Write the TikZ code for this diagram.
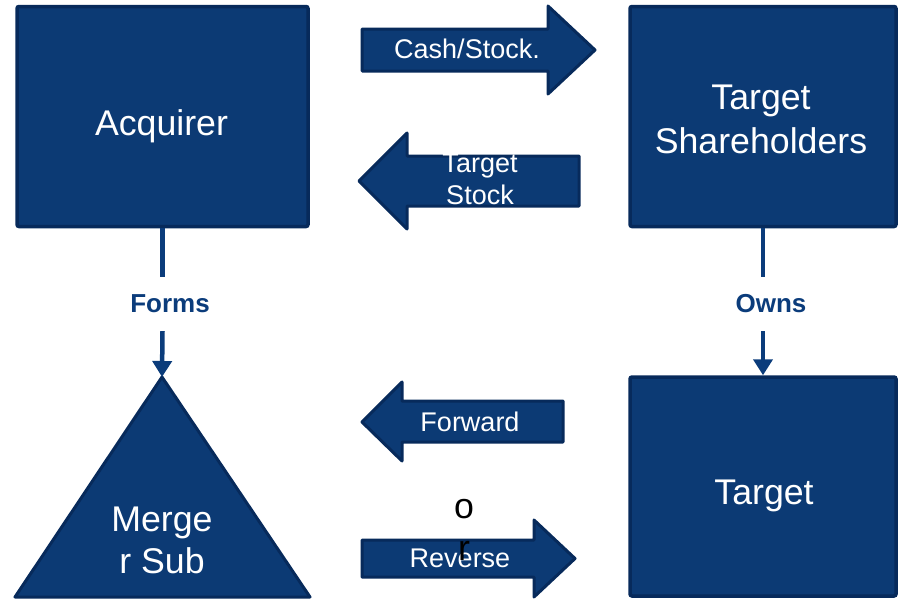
\documentclass[tikz,border=0pt]{standalone}
\usepackage{fontspec}
\setmainfont{Liberation Sans}
\usetikzlibrary{arrows.meta}
\definecolor{boxfill}{HTML}{0C3A74}
\definecolor{boxline}{HTML}{072A5B}
\definecolor{connc}{HTML}{0B3C7B}
\begin{document}
\begin{tikzpicture}[x=1pt,y=-1pt,
  boxst/.style={draw=boxline, fill=boxfill, line width=3.5pt, rounded corners=2pt, inner sep=0pt},
  shapest/.style={draw=boxline, fill=boxfill, line width=3pt, line join=round},
  boxtxt/.style={text=white, font=\fontsize{35.7}{42}\selectfont, inner sep=0pt, align=center},
  arrtxt/.style={text=white, font=\fontsize{27}{32}\selectfont, inner sep=0pt, align=center},
  lbltxt/.style={text=connc, font=\fontsize{26}{30}\selectfont\bfseries, inner sep=0pt, minimum height=54pt},
  connst/.style={draw=connc, line width=4.5pt},
  tipst/.style={-{Triangle[width=19pt,length=16pt]}}
]
\useasboundingbox (0,0) rectangle (901,600);

% boxes
\node[boxst, minimum width=291pt, minimum height=220pt] (acq) at (162.5,116.5) {};
\node[boxst, minimum width=266pt, minimum height=220pt] (tsh) at (763,116.5) {};
\node[boxst, minimum width=266pt, minimum height=219pt] (tgt) at (763,486.5) {};
\coordinate (apex) at (162,377);
\draw[shapest] (apex) -- (310,597) -- (15,597) -- cycle;

\node[boxtxt, anchor=base] (acqtxt) at (161.5,135) {Acquirer};
\node[boxtxt, font=\fontsize{35.7}{44}\selectfont] (tshtxt) at (761,119.5) {Target\\Shareholders};
\node[boxtxt, anchor=base] (tgttxt) at (764,504) {Target};
\node[boxtxt] (mstxt) at (162,540.5) {Merge\\r Sub};

% block arrows
\draw[shapest] (362,29) -- (548,29) -- (548,6) -- (595,50) -- (548,94) -- (548,71) -- (362,71) -- cycle;
\node[arrtxt, anchor=base] (cash) at (467,58) {Cash/Stock.};

\draw[shapest] (579,156) -- (407,156) -- (407,133) -- (359,181) -- (407,229) -- (407,206) -- (579,206) -- cycle;
\node[arrtxt] (tstock) at (480,179.7) {Target\\Stock};

\draw[shapest] (563,401) -- (402,401) -- (402,382) -- (362,422) -- (402,461) -- (402,442) -- (563,442) -- cycle;
\node[arrtxt, anchor=base] (fwd) at (470,431) {Forward};

\draw[shapest] (362,540) -- (534,540) -- (534,520) -- (575,558.5) -- (534,597) -- (534,577) -- (362,577) -- cycle;
\node[arrtxt, anchor=base] (rev) at (460,567) {Reverse};

\node[boxtxt, text=black] (ortxt) at (464,530) {o\\r};

% connectors
\node[lbltxt] (forms) at (170,304) {Forms};
\node[lbltxt] (owns) at (771,304) {Owns};
\draw[connst] (acq.south) -- (acq.south |- forms.north);
\draw[connst, tipst] (acq.south |- forms.south) -- (apex);
\draw[connst] (tsh.south) -- (tsh.south |- owns.north);
\draw[connst, tipst] (tsh.south |- owns.south) -- (tgt.north);
\end{tikzpicture}
\end{document}
